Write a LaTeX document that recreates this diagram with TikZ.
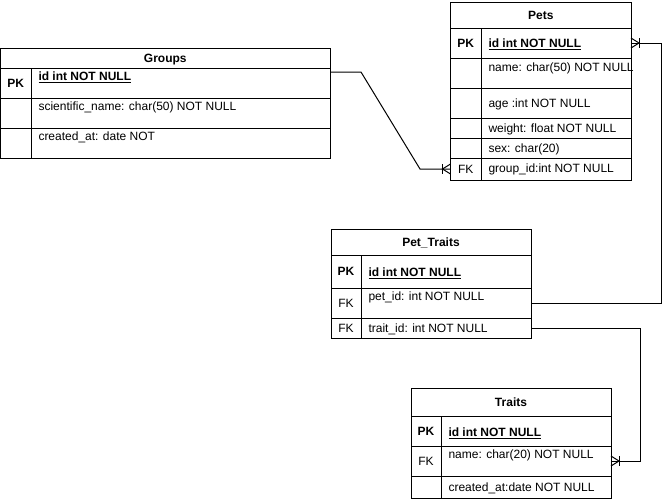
\documentclass[tikz,border=0pt]{standalone}
\usepackage{fontspec}
\setmainfont{Liberation Sans}
\begin{document}
\begin{tikzpicture}[x=1pt,y=-1pt,line width=1pt,
  font=\fontsize{12}{14}\selectfont,
  cell/.style={draw, rectangle, inner sep=0pt, outer sep=0pt, anchor=north west,
    text height=8.6pt, text depth=0pt},
  titlecell/.style={cell, font=\fontsize{12}{14}\selectfont\bfseries},
  pkcell/.style={cell, font=\fontsize{12}{14}\selectfont\bfseries},
  fld/.style={inner sep=0pt, anchor=base west},
  pkfld/.style={fld, font=\fontsize{12}{14}\selectfont\bfseries},
  link/.style={draw, line width=1pt},
  pics/crow/.style={code={
    \draw (0,-5) -- (8,0) -- (0,5);
    \draw (8,-5) -- (8,5);
  }}]
\useasboundingbox (0,0) rectangle (669,499);

% ---------- Groups ----------
\node[titlecell, minimum width=329.5pt, minimum height=20pt] (g-title) at (0.5,48) {Groups};
\node[pkcell, minimum width=30.5pt, minimum height=30pt] (g-k1) at (0.5,68) {PK};
\node[cell, minimum width=299pt, minimum height=30pt] (g-v1) at (31,68) {};
\node[cell, minimum width=30.5pt, minimum height=30pt] (g-k2) at (0.5,98) {};
\node[cell, minimum width=299pt, minimum height=30pt] (g-v2) at (31,98) {};
\node[cell, minimum width=30.5pt, minimum height=30pt] (g-k3) at (0.5,128) {};
\node[cell, minimum width=299pt, minimum height=30pt] (g-v3) at (31,128) {};
\node[pkfld] (g-t1) at (38,80.3) {\underline{id int NOT NULL}};
\node[fld] (g-t2) at (38,110.3) {scientific\_name: char(50) NOT NULL};
\node[fld] (g-t3) at (38,140.3) {created\_at: date NOT};

% ---------- Pets ----------
\node[titlecell, minimum width=180.5pt, minimum height=26pt] (p-title) at (450.5,2) {Pets};
\node[pkcell, minimum width=30.5pt, minimum height=30pt] (p-k1) at (450.5,28) {PK};
\node[cell, minimum width=150pt, minimum height=30pt] (p-v1) at (481,28) {};
\node[cell, minimum width=30.5pt, minimum height=30pt] (p-k2) at (450.5,58) {};
\node[cell, minimum width=150pt, minimum height=30pt] (p-v2) at (481,58) {};
\node[cell, minimum width=30.5pt, minimum height=30pt] (p-k3) at (450.5,88) {};
\node[cell, minimum width=150pt, minimum height=30pt] (p-v3) at (481,88) {};
\node[cell, minimum width=30.5pt, minimum height=20pt] (p-k4) at (450.5,118) {};
\node[cell, minimum width=150pt, minimum height=20pt] (p-v4) at (481,118) {};
\node[cell, minimum width=30.5pt, minimum height=20pt] (p-k5) at (450.5,138) {};
\node[cell, minimum width=150pt, minimum height=20pt] (p-v5) at (481,138) {};
\node[cell, minimum width=30.5pt, minimum height=22pt] (p-k6) at (450.5,158) {FK};
\node[cell, minimum width=150pt, minimum height=22pt] (p-v6) at (481,158) {};
\node[pkfld] (p-t1) at (488,47.3) {\underline{id int NOT NULL}};
\node[fld] (p-t2) at (488,71.3) {name: char(50) NOT NULL};
\node[fld] (p-t3) at (488,107.3) {age :int NOT NULL};
\node[fld] (p-t4) at (488,132.3) {weight: float NOT NULL};
\node[fld] (p-t5) at (488,152.3) {sex: char(20)};
\node[fld] (p-t6) at (488,172.3) {group\_id:int NOT NULL};

% ---------- Pet_Traits ----------
\node[titlecell, minimum width=200pt, minimum height=26pt] (pt-title) at (331,229) {Pet\_Traits};
\node[pkcell, minimum width=30pt, minimum height=33pt] (pt-k1) at (331,255) {PK};
\node[cell, minimum width=170pt, minimum height=33pt] (pt-v1) at (361,255) {};
\node[cell, minimum width=30pt, minimum height=30pt] (pt-k2) at (331,288) {FK};
\node[cell, minimum width=170pt, minimum height=30pt] (pt-v2) at (361,288) {};
\node[cell, minimum width=30pt, minimum height=20pt] (pt-k3) at (331,318) {FK};
\node[cell, minimum width=170pt, minimum height=20pt] (pt-v3) at (361,318) {};
\node[pkfld] (pt-t1) at (368,276.3) {\underline{id int NOT NULL}};
\node[fld] (pt-t2) at (368,300.3) {pet\_id: int NOT NULL};
\node[fld] (pt-t3) at (368,332.3) {trait\_id: int NOT NULL};

% ---------- Traits ----------
\node[titlecell, minimum width=200pt, minimum height=28pt] (t-title) at (411,388) {Traits};
\node[pkcell, minimum width=30pt, minimum height=30pt] (t-k1) at (411,416) {PK};
\node[cell, minimum width=170pt, minimum height=30pt] (t-v1) at (441,416) {};
\node[cell, minimum width=30pt, minimum height=30pt] (t-k2) at (411,446) {FK};
\node[cell, minimum width=170pt, minimum height=30pt] (t-v2) at (441,446) {};
\node[cell, minimum width=30pt, minimum height=22pt] (t-k3) at (411,476) {};
\node[cell, minimum width=170pt, minimum height=22pt] (t-v3) at (441,476) {};
\node[pkfld] (t-t1) at (448,436.3) {\underline{id int NOT NULL}};
\node[fld] (t-t2) at (448,458.3) {name: char(20) NOT NULL};
\node[fld] (t-t3) at (448,491.3) {created\_at:date NOT NULL};

% ---------- relationships ----------
\draw[link] ([yshift=11pt]g-v1.east) -- ++(31,0) -- ([xshift=-30.5pt]p-k6.west) -- (p-k6.west);
\pic[xscale=-1] at (p-k6.west) {crow};

\draw[link] (p-v1.east) -- ++(30,0) |- (pt-v2.east);
\pic at (p-v1.east) {crow};

\draw[link] (pt-v3.east) -- ++(109,0) |- (t-v2.east);
\pic at (t-v2.east) {crow};
\end{tikzpicture}
\end{document}
